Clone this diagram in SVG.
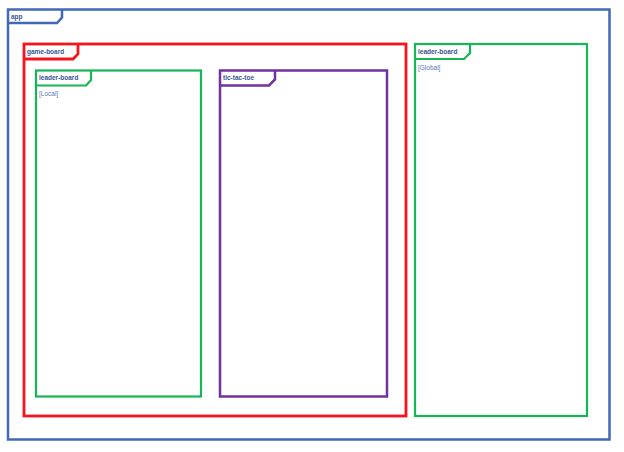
<svg xmlns="http://www.w3.org/2000/svg" width="624" height="452" viewBox="0 0 624 452">
<style>
  .frame { fill: none; stroke-linejoin: miter; }
  .app { stroke: #4169B8; stroke-width: 2.5; }
  .game { stroke: #F5141C; stroke-width: 2.8; }
  .leader { stroke: #16B556; stroke-width: 2.2; }
  .ttt { stroke: #7331A0; stroke-width: 2.5; }
  .title { font-family: "Liberation Sans", Arial, sans-serif; font-size: 6.5px; font-weight: bold; fill: #3A5596; }
  .note { font-family: "Liberation Sans", Arial, sans-serif; font-size: 6.5px; fill: #5A79B8; }
</style>
<rect width="624" height="452" fill="#FFFFFF"/>
<g id="app">
  <rect class="frame app" x="8" y="9.5" width="601.5" height="430"/>
  <path class="frame app" d="M8 23 H57 L62 17.5 V9.5"/>
  <text class="title" x="11" y="18.5">app</text>
</g>
<g id="game-board">
  <rect class="frame game" x="24" y="44" width="382" height="372"/>
  <path class="frame game" d="M24 59 H73 L78 54 V44"/>
  <text class="title" x="27" y="53.5">game-board</text>
</g>
<g id="leader-board-local">
  <rect class="frame leader" x="36" y="70.5" width="165" height="326"/>
  <path class="frame leader" d="M36 85.5 H86 L91 80 V70.5"/>
  <text class="title" x="39" y="79.5">leader-board</text>
  <text class="note" x="39" y="95.5">[Local]</text>
</g>
<g id="tic-tac-toe">
  <rect class="frame ttt" x="220" y="70.5" width="167" height="326"/>
  <path class="frame ttt" d="M220 85.5 H269 L275 79.5 V70.5"/>
  <text class="title" x="223" y="79.5">tic-tac-toe</text>
</g>
<g id="leader-board-global">
  <rect class="frame leader" x="415" y="44" width="172" height="372"/>
  <path class="frame leader" d="M415 59 H464 L470 53 V44"/>
  <text class="title" x="418" y="53.5">leader-board</text>
  <text class="note" x="418" y="69.5">[Global]</text>
</g>
<g id="connectors"></g>
</svg>
